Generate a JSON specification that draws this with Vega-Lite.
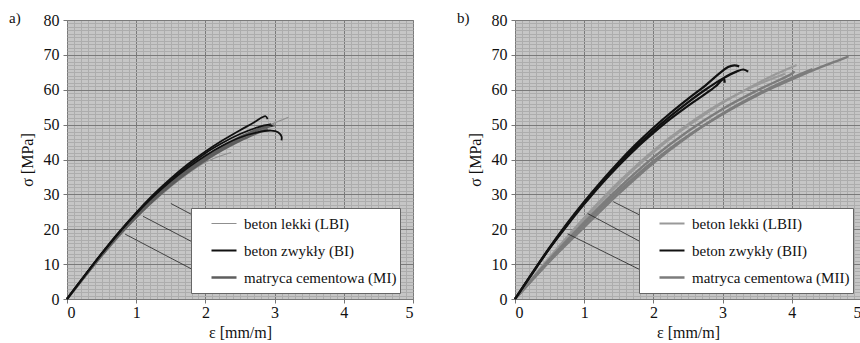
{
  "$schema": "https://vega.github.io/schema/vega-lite/v6.json",
  "background": "white",
  "padding": {"left": 8, "top": 10, "right": 0, "bottom": 0},
  "spacing": 42,
  "config": {
    "font": "Liberation Serif",
    "view": {"fill": "#c6c6c6", "stroke": "#9a9a9a"},
    "axis": {"labelFont": "Liberation Serif", "labelFontSize": 16, "labelColor": "#111", "titleFont": "Liberation Serif", "titleFontSize": 16, "titleFontWeight": "normal", "titleColor": "#111", "domain": false, "labelOverlap": false, "tickSize": 4, "tickColor": "#777", "tickCount": 200},
    "title": {"font": "Liberation Serif", "fontSize": 15, "fontWeight": "normal", "anchor": "start", "frame": "bounds", "orient": "top", "dx": -10, "offset": -14, "color": "#111"},
    "legend": {"orient": "none", "legendX": 124, "legendY": 188, "title": null, "symbolType": "stroke", "symbolSize": 625, "symbolOffset": 16, "padding": 3, "rowPadding": 2, "labelOffset": 6, "clipHeight": 25, "fillColor": "white", "strokeColor": "#666", "labelFont": "Liberation Serif", "labelFontSize": 15, "labelColor": "#111", "labelLimit": 300}
  },
  "datasets": {
    "curves": [
      {"p":"a","s":"beton lekki (LBI)","k":1,"i":0,"x":0,"y":0},{"p":"a","s":"beton lekki (LBI)","k":1,"i":1,"x":0.25,"y":6.2},{"p":"a","s":"beton lekki (LBI)","k":1,"i":2,"x":0.5,"y":12.3},{"p":"a","s":"beton lekki (LBI)","k":1,"i":3,"x":0.75,"y":18},{"p":"a","s":"beton lekki (LBI)","k":1,"i":4,"x":1,"y":23.4},{"p":"a","s":"beton lekki (LBI)","k":1,"i":5,"x":1.25,"y":28.3},{"p":"a","s":"beton lekki (LBI)","k":1,"i":6,"x":1.5,"y":32.6},{"p":"a","s":"beton lekki (LBI)","k":1,"i":7,"x":1.75,"y":36.5},{"p":"a","s":"beton lekki (LBI)","k":1,"i":8,"x":2,"y":40},{"p":"a","s":"beton lekki (LBI)","k":1,"i":9,"x":2.25,"y":43.2},{"p":"a","s":"beton lekki (LBI)","k":1,"i":10,"x":2.5,"y":46},{"p":"a","s":"beton lekki (LBI)","k":1,"i":11,"x":2.75,"y":48.4},{"p":"a","s":"beton lekki (LBI)","k":1,"i":12,"x":3,"y":50.5},{"p":"a","s":"beton lekki (LBI)","k":1,"i":13,"x":3.2,"y":52.1},
      {"p":"a","s":"beton lekki (LBI)","k":2,"i":0,"x":0,"y":0},{"p":"a","s":"beton lekki (LBI)","k":2,"i":1,"x":0.5,"y":12.1},{"p":"a","s":"beton lekki (LBI)","k":2,"i":2,"x":1,"y":23.2},{"p":"a","s":"beton lekki (LBI)","k":2,"i":3,"x":1.5,"y":32.2},{"p":"a","s":"beton lekki (LBI)","k":2,"i":4,"x":2,"y":39.2},{"p":"a","s":"beton lekki (LBI)","k":2,"i":5,"x":2.37,"y":42},
      {"p":"a","s":"beton lekki (LBI)","k":3,"i":0,"x":0,"y":0},{"p":"a","s":"beton lekki (LBI)","k":3,"i":1,"x":0.5,"y":12.4},{"p":"a","s":"beton lekki (LBI)","k":3,"i":2,"x":1,"y":23.6},{"p":"a","s":"beton lekki (LBI)","k":3,"i":3,"x":1.5,"y":32.9},{"p":"a","s":"beton lekki (LBI)","k":3,"i":4,"x":2,"y":40.3},{"p":"a","s":"beton lekki (LBI)","k":3,"i":5,"x":2.5,"y":45.6},{"p":"a","s":"beton lekki (LBI)","k":3,"i":6,"x":2.8,"y":48.4},{"p":"a","s":"beton lekki (LBI)","k":3,"i":7,"x":2.95,"y":49.6},
      {"p":"a","s":"matryca cementowa (MI)","k":1,"i":0,"x":0,"y":0},{"p":"a","s":"matryca cementowa (MI)","k":1,"i":1,"x":0.25,"y":6.4},{"p":"a","s":"matryca cementowa (MI)","k":1,"i":2,"x":0.5,"y":12.7},{"p":"a","s":"matryca cementowa (MI)","k":1,"i":3,"x":0.75,"y":18.6},{"p":"a","s":"matryca cementowa (MI)","k":1,"i":4,"x":1,"y":24},{"p":"a","s":"matryca cementowa (MI)","k":1,"i":5,"x":1.25,"y":29},{"p":"a","s":"matryca cementowa (MI)","k":1,"i":6,"x":1.5,"y":33.4},{"p":"a","s":"matryca cementowa (MI)","k":1,"i":7,"x":1.75,"y":37.3},{"p":"a","s":"matryca cementowa (MI)","k":1,"i":8,"x":2,"y":40.7},{"p":"a","s":"matryca cementowa (MI)","k":1,"i":9,"x":2.25,"y":43.8},{"p":"a","s":"matryca cementowa (MI)","k":1,"i":10,"x":2.5,"y":46.4},{"p":"a","s":"matryca cementowa (MI)","k":1,"i":11,"x":2.75,"y":48.6},{"p":"a","s":"matryca cementowa (MI)","k":1,"i":12,"x":2.95,"y":50.2},
      {"p":"a","s":"matryca cementowa (MI)","k":2,"i":0,"x":0,"y":0},{"p":"a","s":"matryca cementowa (MI)","k":2,"i":1,"x":0.25,"y":6.3},{"p":"a","s":"matryca cementowa (MI)","k":2,"i":2,"x":0.5,"y":12.5},{"p":"a","s":"matryca cementowa (MI)","k":2,"i":3,"x":0.75,"y":18.3},{"p":"a","s":"matryca cementowa (MI)","k":2,"i":4,"x":1,"y":23.5},{"p":"a","s":"matryca cementowa (MI)","k":2,"i":5,"x":1.25,"y":28.3},{"p":"a","s":"matryca cementowa (MI)","k":2,"i":6,"x":1.5,"y":32.6},{"p":"a","s":"matryca cementowa (MI)","k":2,"i":7,"x":1.75,"y":36.4},{"p":"a","s":"matryca cementowa (MI)","k":2,"i":8,"x":2,"y":39.8},{"p":"a","s":"matryca cementowa (MI)","k":2,"i":9,"x":2.25,"y":42.8},{"p":"a","s":"matryca cementowa (MI)","k":2,"i":10,"x":2.5,"y":45.4},{"p":"a","s":"matryca cementowa (MI)","k":2,"i":11,"x":2.75,"y":47.6},{"p":"a","s":"matryca cementowa (MI)","k":2,"i":12,"x":2.9,"y":48.8},
      {"p":"a","s":"matryca cementowa (MI)","k":3,"i":0,"x":0,"y":0},{"p":"a","s":"matryca cementowa (MI)","k":3,"i":1,"x":0.5,"y":12.6},{"p":"a","s":"matryca cementowa (MI)","k":3,"i":2,"x":1,"y":23.8},{"p":"a","s":"matryca cementowa (MI)","k":3,"i":3,"x":1.5,"y":33},{"p":"a","s":"matryca cementowa (MI)","k":3,"i":4,"x":2,"y":40.3},{"p":"a","s":"matryca cementowa (MI)","k":3,"i":5,"x":2.5,"y":46.1},{"p":"a","s":"matryca cementowa (MI)","k":3,"i":6,"x":2.8,"y":48.8},{"p":"a","s":"matryca cementowa (MI)","k":3,"i":7,"x":3,"y":49.8},
      {"p":"a","s":"beton zwykły (BI)","k":1,"i":0,"x":0,"y":0},{"p":"a","s":"beton zwykły (BI)","k":1,"i":1,"x":0.25,"y":6.6},{"p":"a","s":"beton zwykły (BI)","k":1,"i":2,"x":0.5,"y":13.1},{"p":"a","s":"beton zwykły (BI)","k":1,"i":3,"x":0.75,"y":19.2},{"p":"a","s":"beton zwykły (BI)","k":1,"i":4,"x":1,"y":24.8},{"p":"a","s":"beton zwykły (BI)","k":1,"i":5,"x":1.25,"y":30},{"p":"a","s":"beton zwykły (BI)","k":1,"i":6,"x":1.5,"y":34.6},{"p":"a","s":"beton zwykły (BI)","k":1,"i":7,"x":1.75,"y":38.7},{"p":"a","s":"beton zwykły (BI)","k":1,"i":8,"x":2,"y":42.3},{"p":"a","s":"beton zwykły (BI)","k":1,"i":9,"x":2.25,"y":45.5},{"p":"a","s":"beton zwykły (BI)","k":1,"i":10,"x":2.5,"y":48.4},{"p":"a","s":"beton zwykły (BI)","k":1,"i":11,"x":2.7,"y":50.6},{"p":"a","s":"beton zwykły (BI)","k":1,"i":12,"x":2.82,"y":52.1},{"p":"a","s":"beton zwykły (BI)","k":1,"i":13,"x":2.87,"y":52.4},{"p":"a","s":"beton zwykły (BI)","k":1,"i":14,"x":2.9,"y":51.6},
      {"p":"a","s":"beton zwykły (BI)","k":2,"i":0,"x":0,"y":0},{"p":"a","s":"beton zwykły (BI)","k":2,"i":1,"x":0.25,"y":6.5},{"p":"a","s":"beton zwykły (BI)","k":2,"i":2,"x":0.5,"y":12.9},{"p":"a","s":"beton zwykły (BI)","k":2,"i":3,"x":0.75,"y":18.9},{"p":"a","s":"beton zwykły (BI)","k":2,"i":4,"x":1,"y":24.4},{"p":"a","s":"beton zwykły (BI)","k":2,"i":5,"x":1.25,"y":29.4},{"p":"a","s":"beton zwykły (BI)","k":2,"i":6,"x":1.5,"y":33.8},{"p":"a","s":"beton zwykły (BI)","k":2,"i":7,"x":1.75,"y":37.7},{"p":"a","s":"beton zwykły (BI)","k":2,"i":8,"x":2,"y":41.1},{"p":"a","s":"beton zwykły (BI)","k":2,"i":9,"x":2.25,"y":44},{"p":"a","s":"beton zwykły (BI)","k":2,"i":10,"x":2.5,"y":46.3},{"p":"a","s":"beton zwykły (BI)","k":2,"i":11,"x":2.75,"y":47.8},{"p":"a","s":"beton zwykły (BI)","k":2,"i":12,"x":2.95,"y":48.3},{"p":"a","s":"beton zwykły (BI)","k":2,"i":13,"x":3.05,"y":47.8},{"p":"a","s":"beton zwykły (BI)","k":2,"i":14,"x":3.1,"y":46.6},{"p":"a","s":"beton zwykły (BI)","k":2,"i":15,"x":3.1,"y":45.5},
      {"p":"a","s":"beton zwykły (BI)","k":3,"i":0,"x":0,"y":0},{"p":"a","s":"beton zwykły (BI)","k":3,"i":1,"x":0.5,"y":13},{"p":"a","s":"beton zwykły (BI)","k":3,"i":2,"x":1,"y":24.6},{"p":"a","s":"beton zwykły (BI)","k":3,"i":3,"x":1.5,"y":34.2},{"p":"a","s":"beton zwykły (BI)","k":3,"i":4,"x":2,"y":41.8},{"p":"a","s":"beton zwykły (BI)","k":3,"i":5,"x":2.25,"y":44.8},{"p":"a","s":"beton zwykły (BI)","k":3,"i":6,"x":2.5,"y":47.3},{"p":"a","s":"beton zwykły (BI)","k":3,"i":7,"x":2.75,"y":49.2},{"p":"a","s":"beton zwykły (BI)","k":3,"i":8,"x":2.9,"y":49.9},{"p":"a","s":"beton zwykły (BI)","k":3,"i":9,"x":2.97,"y":49.6},

      {"p":"b","s":"beton lekki (LBII)","k":1,"i":0,"x":0,"y":0},{"p":"b","s":"beton lekki (LBII)","k":1,"i":1,"x":0.25,"y":5.9},{"p":"b","s":"beton lekki (LBII)","k":1,"i":2,"x":0.5,"y":11.7},{"p":"b","s":"beton lekki (LBII)","k":1,"i":3,"x":0.75,"y":17.3},{"p":"b","s":"beton lekki (LBII)","k":1,"i":4,"x":1,"y":22.8},{"p":"b","s":"beton lekki (LBII)","k":1,"i":5,"x":1.25,"y":28},{"p":"b","s":"beton lekki (LBII)","k":1,"i":6,"x":1.5,"y":33},{"p":"b","s":"beton lekki (LBII)","k":1,"i":7,"x":1.75,"y":37.7},{"p":"b","s":"beton lekki (LBII)","k":1,"i":8,"x":2,"y":42},{"p":"b","s":"beton lekki (LBII)","k":1,"i":9,"x":2.25,"y":46},{"p":"b","s":"beton lekki (LBII)","k":1,"i":10,"x":2.5,"y":49.6},{"p":"b","s":"beton lekki (LBII)","k":1,"i":11,"x":2.75,"y":53},{"p":"b","s":"beton lekki (LBII)","k":1,"i":12,"x":3,"y":56.2},{"p":"b","s":"beton lekki (LBII)","k":1,"i":13,"x":3.25,"y":59.1},{"p":"b","s":"beton lekki (LBII)","k":1,"i":14,"x":3.5,"y":61.8},{"p":"b","s":"beton lekki (LBII)","k":1,"i":15,"x":3.75,"y":64.3},{"p":"b","s":"beton lekki (LBII)","k":1,"i":16,"x":4,"y":66.5},{"p":"b","s":"beton lekki (LBII)","k":1,"i":17,"x":4.07,"y":67.1},
      {"p":"b","s":"beton lekki (LBII)","k":2,"i":0,"x":0,"y":0},{"p":"b","s":"beton lekki (LBII)","k":2,"i":1,"x":0.5,"y":12},{"p":"b","s":"beton lekki (LBII)","k":2,"i":2,"x":1,"y":23.3},{"p":"b","s":"beton lekki (LBII)","k":2,"i":3,"x":1.5,"y":33.6},{"p":"b","s":"beton lekki (LBII)","k":2,"i":4,"x":2,"y":42.6},{"p":"b","s":"beton lekki (LBII)","k":2,"i":5,"x":2.5,"y":50.1},{"p":"b","s":"beton lekki (LBII)","k":2,"i":6,"x":3,"y":56.5},{"p":"b","s":"beton lekki (LBII)","k":2,"i":7,"x":3.5,"y":61.4},{"p":"b","s":"beton lekki (LBII)","k":2,"i":8,"x":3.9,"y":64.6},
      {"p":"b","s":"matryca cementowa (MII)","k":1,"i":0,"x":0,"y":0},{"p":"b","s":"matryca cementowa (MII)","k":1,"i":1,"x":0.25,"y":5.5},{"p":"b","s":"matryca cementowa (MII)","k":1,"i":2,"x":0.5,"y":11},{"p":"b","s":"matryca cementowa (MII)","k":1,"i":3,"x":0.75,"y":16.3},{"p":"b","s":"matryca cementowa (MII)","k":1,"i":4,"x":1,"y":21.4},{"p":"b","s":"matryca cementowa (MII)","k":1,"i":5,"x":1.25,"y":26.3},{"p":"b","s":"matryca cementowa (MII)","k":1,"i":6,"x":1.5,"y":31},{"p":"b","s":"matryca cementowa (MII)","k":1,"i":7,"x":1.75,"y":35.4},{"p":"b","s":"matryca cementowa (MII)","k":1,"i":8,"x":2,"y":39.5},{"p":"b","s":"matryca cementowa (MII)","k":1,"i":9,"x":2.25,"y":43.3},{"p":"b","s":"matryca cementowa (MII)","k":1,"i":10,"x":2.5,"y":46.8},{"p":"b","s":"matryca cementowa (MII)","k":1,"i":11,"x":2.75,"y":50},{"p":"b","s":"matryca cementowa (MII)","k":1,"i":12,"x":3,"y":53},{"p":"b","s":"matryca cementowa (MII)","k":1,"i":13,"x":3.25,"y":55.8},{"p":"b","s":"matryca cementowa (MII)","k":1,"i":14,"x":3.5,"y":58.4},{"p":"b","s":"matryca cementowa (MII)","k":1,"i":15,"x":3.75,"y":60.8},{"p":"b","s":"matryca cementowa (MII)","k":1,"i":16,"x":4,"y":63},{"p":"b","s":"matryca cementowa (MII)","k":1,"i":17,"x":4.25,"y":65.1},{"p":"b","s":"matryca cementowa (MII)","k":1,"i":18,"x":4.5,"y":67.1},{"p":"b","s":"matryca cementowa (MII)","k":1,"i":19,"x":4.75,"y":69},{"p":"b","s":"matryca cementowa (MII)","k":1,"i":20,"x":4.82,"y":69.6},
      {"p":"b","s":"matryca cementowa (MII)","k":2,"i":0,"x":0,"y":0},{"p":"b","s":"matryca cementowa (MII)","k":2,"i":1,"x":0.5,"y":11.4},{"p":"b","s":"matryca cementowa (MII)","k":2,"i":2,"x":1,"y":22},{"p":"b","s":"matryca cementowa (MII)","k":2,"i":3,"x":1.5,"y":31.8},{"p":"b","s":"matryca cementowa (MII)","k":2,"i":4,"x":2,"y":40.6},{"p":"b","s":"matryca cementowa (MII)","k":2,"i":5,"x":2.5,"y":48.1},{"p":"b","s":"matryca cementowa (MII)","k":2,"i":6,"x":3,"y":54.5},{"p":"b","s":"matryca cementowa (MII)","k":2,"i":7,"x":3.5,"y":59.8},{"p":"b","s":"matryca cementowa (MII)","k":2,"i":8,"x":4,"y":64.6},{"p":"b","s":"matryca cementowa (MII)","k":2,"i":9,"x":4.04,"y":65.3},
      {"p":"b","s":"matryca cementowa (MII)","k":3,"i":0,"x":0,"y":0},{"p":"b","s":"matryca cementowa (MII)","k":3,"i":1,"x":0.5,"y":10.8},{"p":"b","s":"matryca cementowa (MII)","k":3,"i":2,"x":1,"y":20.6},{"p":"b","s":"matryca cementowa (MII)","k":3,"i":3,"x":1.5,"y":30.2},{"p":"b","s":"matryca cementowa (MII)","k":3,"i":4,"x":2,"y":39},{"p":"b","s":"matryca cementowa (MII)","k":3,"i":5,"x":2.5,"y":46.6},{"p":"b","s":"matryca cementowa (MII)","k":3,"i":6,"x":3,"y":53.2},{"p":"b","s":"matryca cementowa (MII)","k":3,"i":7,"x":3.5,"y":58.7},{"p":"b","s":"matryca cementowa (MII)","k":3,"i":8,"x":4,"y":63.4},{"p":"b","s":"matryca cementowa (MII)","k":3,"i":9,"x":4.3,"y":65.9},
      {"p":"b","s":"beton zwykły (BII)","k":1,"i":0,"x":0,"y":0},{"p":"b","s":"beton zwykły (BII)","k":1,"i":1,"x":0.25,"y":7.5},{"p":"b","s":"beton zwykły (BII)","k":1,"i":2,"x":0.5,"y":14.8},{"p":"b","s":"beton zwykły (BII)","k":1,"i":3,"x":0.75,"y":21.6},{"p":"b","s":"beton zwykły (BII)","k":1,"i":4,"x":1,"y":27.9},{"p":"b","s":"beton zwykły (BII)","k":1,"i":5,"x":1.25,"y":33.8},{"p":"b","s":"beton zwykły (BII)","k":1,"i":6,"x":1.5,"y":39.3},{"p":"b","s":"beton zwykły (BII)","k":1,"i":7,"x":1.75,"y":44.4},{"p":"b","s":"beton zwykły (BII)","k":1,"i":8,"x":2,"y":49.1},{"p":"b","s":"beton zwykły (BII)","k":1,"i":9,"x":2.25,"y":53.4},{"p":"b","s":"beton zwykły (BII)","k":1,"i":10,"x":2.5,"y":57.4},{"p":"b","s":"beton zwykły (BII)","k":1,"i":11,"x":2.75,"y":61.2},{"p":"b","s":"beton zwykły (BII)","k":1,"i":12,"x":2.95,"y":64.6},{"p":"b","s":"beton zwykły (BII)","k":1,"i":13,"x":3.08,"y":66.5},{"p":"b","s":"beton zwykły (BII)","k":1,"i":14,"x":3.17,"y":67},{"p":"b","s":"beton zwykły (BII)","k":1,"i":15,"x":3.24,"y":66.7},
      {"p":"b","s":"beton zwykły (BII)","k":2,"i":0,"x":0,"y":0},{"p":"b","s":"beton zwykły (BII)","k":2,"i":1,"x":0.25,"y":7.4},{"p":"b","s":"beton zwykły (BII)","k":2,"i":2,"x":0.5,"y":14.6},{"p":"b","s":"beton zwykły (BII)","k":2,"i":3,"x":0.75,"y":21.3},{"p":"b","s":"beton zwykły (BII)","k":2,"i":4,"x":1,"y":27.5},{"p":"b","s":"beton zwykły (BII)","k":2,"i":5,"x":1.25,"y":33.3},{"p":"b","s":"beton zwykły (BII)","k":2,"i":6,"x":1.5,"y":38.7},{"p":"b","s":"beton zwykły (BII)","k":2,"i":7,"x":1.75,"y":43.7},{"p":"b","s":"beton zwykły (BII)","k":2,"i":8,"x":2,"y":48.3},{"p":"b","s":"beton zwykły (BII)","k":2,"i":9,"x":2.25,"y":52.5},{"p":"b","s":"beton zwykły (BII)","k":2,"i":10,"x":2.5,"y":56.4},{"p":"b","s":"beton zwykły (BII)","k":2,"i":11,"x":2.75,"y":60},{"p":"b","s":"beton zwykły (BII)","k":2,"i":12,"x":3,"y":63.2},{"p":"b","s":"beton zwykły (BII)","k":2,"i":13,"x":3.2,"y":65.2},{"p":"b","s":"beton zwykły (BII)","k":2,"i":14,"x":3.3,"y":65.8},{"p":"b","s":"beton zwykły (BII)","k":2,"i":15,"x":3.37,"y":65.2},
      {"p":"b","s":"beton zwykły (BII)","k":3,"i":0,"x":0,"y":0},{"p":"b","s":"beton zwykły (BII)","k":3,"i":1,"x":0.25,"y":7.3},{"p":"b","s":"beton zwykły (BII)","k":3,"i":2,"x":0.5,"y":14.5},{"p":"b","s":"beton zwykły (BII)","k":3,"i":3,"x":0.75,"y":21},{"p":"b","s":"beton zwykły (BII)","k":3,"i":4,"x":1,"y":27.2},{"p":"b","s":"beton zwykły (BII)","k":3,"i":5,"x":1.25,"y":33},{"p":"b","s":"beton zwykły (BII)","k":3,"i":6,"x":1.5,"y":38.3},{"p":"b","s":"beton zwykły (BII)","k":3,"i":7,"x":1.75,"y":43.2},{"p":"b","s":"beton zwykły (BII)","k":3,"i":8,"x":2,"y":47.6},{"p":"b","s":"beton zwykły (BII)","k":3,"i":9,"x":2.25,"y":51.7},{"p":"b","s":"beton zwykły (BII)","k":3,"i":10,"x":2.5,"y":55.4},{"p":"b","s":"beton zwykły (BII)","k":3,"i":11,"x":2.75,"y":58.8},{"p":"b","s":"beton zwykły (BII)","k":3,"i":12,"x":2.9,"y":61},{"p":"b","s":"beton zwykły (BII)","k":3,"i":13,"x":2.98,"y":62.6},{"p":"b","s":"beton zwykły (BII)","k":3,"i":14,"x":3.02,"y":63.1},{"p":"b","s":"beton zwykły (BII)","k":3,"i":15,"x":3.03,"y":62}
    ],
    "leaders": [
      {"p":"a","x":1.5,"y":27.4,"x2":2.07,"y2":21.4},
      {"p":"a","x":1.1,"y":23.7,"x2":2.07,"y2":13.7},
      {"p":"a","x":0.84,"y":18.6,"x2":2.07,"y2":5.8},
      {"p":"b","x":1.42,"y":27.9,"x2":2.07,"y2":21.4},
      {"p":"b","x":1.05,"y":24.5,"x2":2.07,"y2":13.7},
      {"p":"b","x":0.76,"y":18.7,"x2":2.07,"y2":5.8}
    ]
  },
  "resolve": {"scale": {"color": "independent", "strokeWidth": "independent"}, "legend": {"color": "independent", "strokeWidth": "independent"}},
  "hconcat": [
    {
      "width": 346, "height": 279,
      "title": {"text": "a)"},
      "layer": [
        {
          "data": {"name": "curves"},
          "transform": [{"filter": "datum.p === 'a'"}],
          "mark": {"type": "line", "interpolate": "catmull-rom"},
          "encoding": {
            "x": {"field": "x", "type": "quantitative", "scale": {"domain": [0, 5], "nice": false},
              "axis": {"title": "ε [mm/m]", "values": [0,0.1,0.2,0.3,0.4,0.5,0.6,0.7,0.8,0.9,1,1.1,1.2,1.3,1.4,1.5,1.6,1.7,1.8,1.9,2,2.1,2.2,2.3,2.4,2.5,2.6,2.7,2.8,2.9,3,3.1,3.2,3.3,3.4,3.5,3.6,3.7,3.8,3.9,4,4.1,4.2,4.3,4.4,4.5,4.6,4.7,4.8,4.9,5],
                "tickCount": 200,
                "labelExpr": "datum.value % 1 == 0 ? '' + datum.value : ''",
                "gridColor": {"condition": {"test": "datum.value % 1 == 0", "value": "#7a7a7a"}, "value": "#adadad"},
                "tickOpacity": {"condition": {"test": "datum.value % 1 == 0", "value": 1}, "value": 0},
                "labelPadding": 1, "titlePadding": 4}},
            "y": {"field": "y", "type": "quantitative", "scale": {"domain": [0, 80], "nice": false},
              "axis": {"title": "σ [MPa]", "values": [0,1,2,3,4,5,6,7,8,9,10,11,12,13,14,15,16,17,18,19,20,21,22,23,24,25,26,27,28,29,30,31,32,33,34,35,36,37,38,39,40,41,42,43,44,45,46,47,48,49,50,51,52,53,54,55,56,57,58,59,60,61,62,63,64,65,66,67,68,69,70,71,72,73,74,75,76,77,78,79,80],
                "tickCount": 200,
                "labelExpr": "datum.value % 10 == 0 ? '' + datum.value : ''",
                "gridColor": {"condition": {"test": "datum.value % 10 == 0", "value": "#7a7a7a"}, "value": "#adadad"},
                "tickOpacity": {"condition": {"test": "datum.value % 10 == 0", "value": 1}, "value": 0},
                "labelPadding": 4, "titlePadding": 8}},
            "color": {"field": "s", "type": "nominal", "scale": {"domain": ["beton lekki (LBI)", "beton zwykły (BI)", "matryca cementowa (MI)"], "range": ["#8f8f8f", "#111111", "#5e5e5e"]}},
            "strokeWidth": {"field": "s", "type": "nominal", "scale": {"domain": ["beton lekki (LBI)", "beton zwykły (BI)", "matryca cementowa (MI)"], "range": [1.2, 2.4, 1.8]}},
            "detail": {"field": "k"},
            "order": {"field": "i", "type": "quantitative"}
          }
        },
        {
          "data": {"name": "leaders"},
          "transform": [{"filter": "datum.p === 'a'"}],
          "mark": {"type": "rule", "color": "#222", "strokeWidth": 0.8},
          "encoding": {
            "x": {"field": "x", "type": "quantitative"},
            "y": {"field": "y", "type": "quantitative"},
            "x2": {"field": "x2"},
            "y2": {"field": "y2"}
          }
        }
      ]
    },
    {
      "width": 346, "height": 279,
      "title": {"text": "b)"},
      "layer": [
        {
          "data": {"name": "curves"},
          "transform": [{"filter": "datum.p === 'b'"}],
          "mark": {"type": "line", "interpolate": "catmull-rom"},
          "encoding": {
            "x": {"field": "x", "type": "quantitative", "scale": {"domain": [0, 5], "nice": false},
              "axis": {"title": "ε [mm/m]", "values": [0,0.1,0.2,0.3,0.4,0.5,0.6,0.7,0.8,0.9,1,1.1,1.2,1.3,1.4,1.5,1.6,1.7,1.8,1.9,2,2.1,2.2,2.3,2.4,2.5,2.6,2.7,2.8,2.9,3,3.1,3.2,3.3,3.4,3.5,3.6,3.7,3.8,3.9,4,4.1,4.2,4.3,4.4,4.5,4.6,4.7,4.8,4.9,5],
                "tickCount": 200,
                "labelExpr": "datum.value % 1 == 0 ? '' + datum.value : ''",
                "gridColor": {"condition": {"test": "datum.value % 1 == 0", "value": "#7a7a7a"}, "value": "#adadad"},
                "tickOpacity": {"condition": {"test": "datum.value % 1 == 0", "value": 1}, "value": 0},
                "labelPadding": 1, "titlePadding": 4}},
            "y": {"field": "y", "type": "quantitative", "scale": {"domain": [0, 80], "nice": false},
              "axis": {"title": "σ [MPa]", "values": [0,1,2,3,4,5,6,7,8,9,10,11,12,13,14,15,16,17,18,19,20,21,22,23,24,25,26,27,28,29,30,31,32,33,34,35,36,37,38,39,40,41,42,43,44,45,46,47,48,49,50,51,52,53,54,55,56,57,58,59,60,61,62,63,64,65,66,67,68,69,70,71,72,73,74,75,76,77,78,79,80],
                "tickCount": 200,
                "labelExpr": "datum.value % 10 == 0 ? '' + datum.value : ''",
                "gridColor": {"condition": {"test": "datum.value % 10 == 0", "value": "#7a7a7a"}, "value": "#adadad"},
                "tickOpacity": {"condition": {"test": "datum.value % 10 == 0", "value": 1}, "value": 0},
                "labelPadding": 4, "titlePadding": 8}},
            "color": {"field": "s", "type": "nominal", "scale": {"domain": ["beton lekki (LBII)", "beton zwykły (BII)", "matryca cementowa (MII)"], "range": ["#999999", "#111111", "#7c7c7c"]}},
            "strokeWidth": {"field": "s", "type": "nominal", "scale": {"domain": ["beton lekki (LBII)", "beton zwykły (BII)", "matryca cementowa (MII)"], "range": [2, 2.4, 2.2]}},
            "detail": {"field": "k"},
            "order": {"field": "i", "type": "quantitative"}
          }
        },
        {
          "data": {"name": "leaders"},
          "transform": [{"filter": "datum.p === 'b'"}],
          "mark": {"type": "rule", "color": "#222", "strokeWidth": 0.8},
          "encoding": {
            "x": {"field": "x", "type": "quantitative"},
            "y": {"field": "y", "type": "quantitative"},
            "x2": {"field": "x2"},
            "y2": {"field": "y2"}
          }
        }
      ]
    }
  ]
}
